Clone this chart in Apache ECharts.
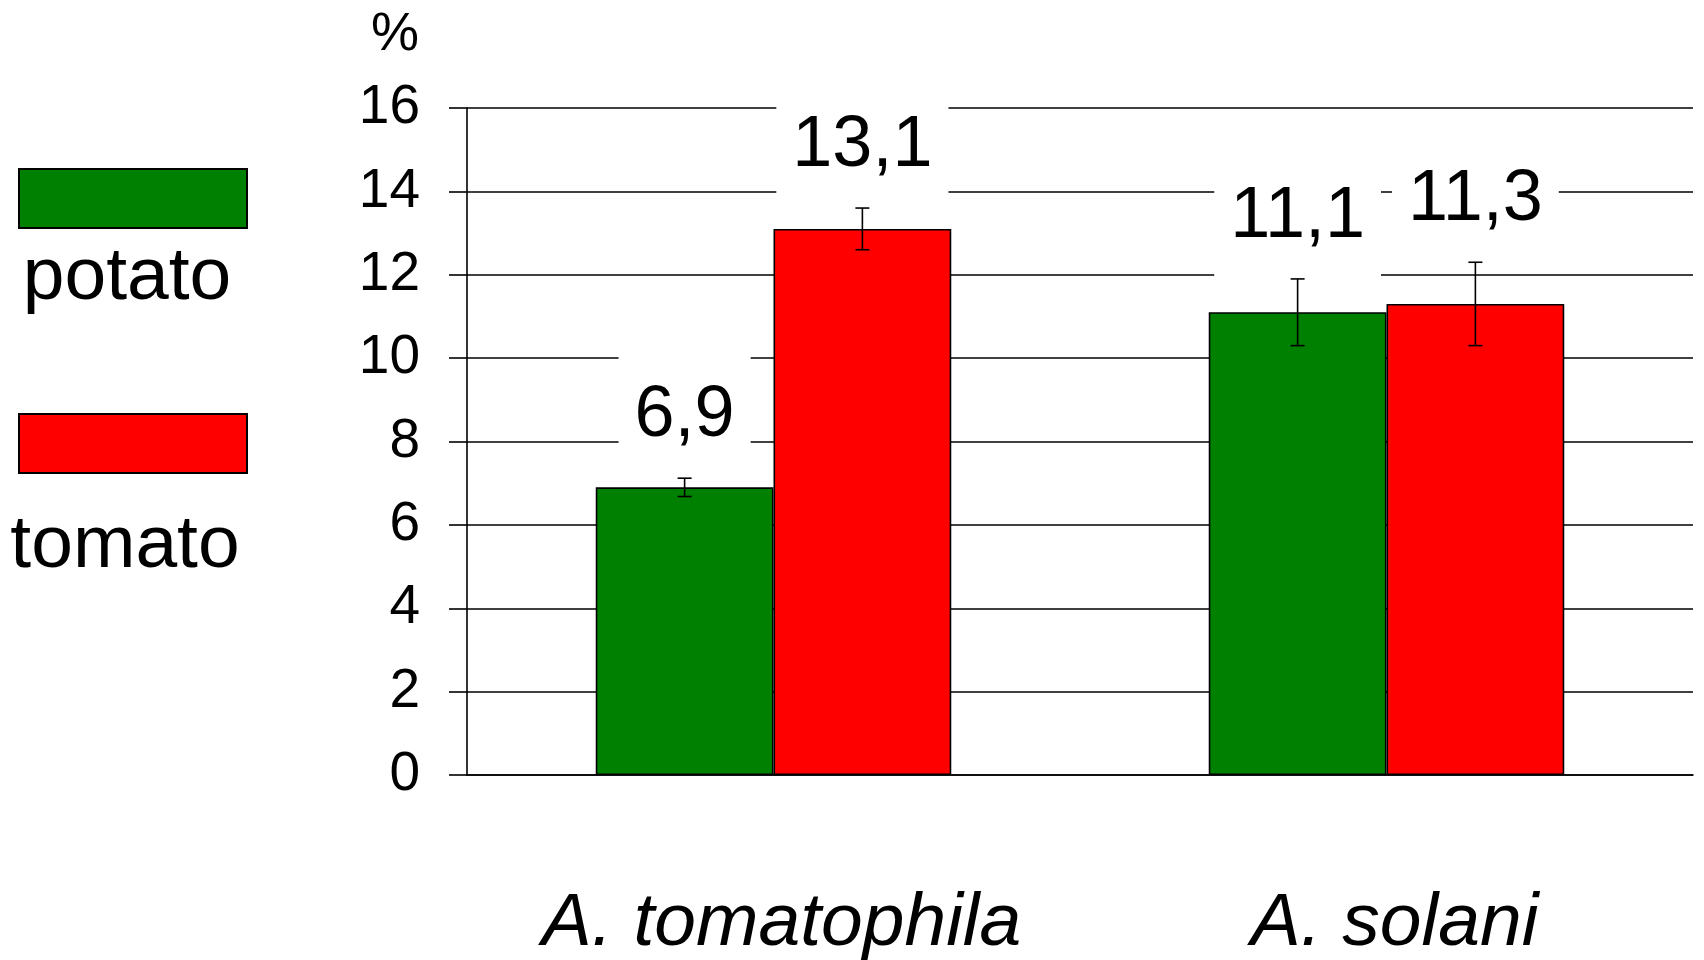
<!DOCTYPE html>
<html>
<head>
<meta charset="utf-8">
<script src="https://cdn.jsdelivr.net/npm/echarts@6/dist/echarts.min.js"></script>
<style>html,body{margin:0;padding:0;background:#fff}#c{width:1704px;height:960px}</style>
</head>
<body>
<div id="c"></div>
<script>
const categories = ['A. tomatophila', 'A. solani'];
const seriesNames = ['potato', 'tomato'];
const potatoValues = [6.9, 11.1];
const tomatoValues = [13.1, 11.3];
const potatoErrors = [0.22, 0.8];
const tomatoErrors = [0.5, 1.0];
const yMin = 0, yMax = 16, yInterval = 2;

const FONT = '"Liberation Sans", Arial, sans-serif';
const colors = ['#008000', '#ff0000'];
const values = [potatoValues, tomatoValues];
const errors = [potatoErrors, tomatoErrors];
const fmt = v => String(v).replace('.', ',');
const CAT_GAP = 0.42;

const chart = echarts.init(document.getElementById('c'), null, {renderer: 'canvas'});

function errorSeries(si) {
  const sign = si === 0 ? -1 : 1;
  return {
    type: 'custom',
    name: seriesNames[si] + ' err',
    z: 5,
    silent: true,
    data: categories.map((c, i) => [i, values[si][i], errors[si][i]]),
    encode: {x: 0, y: 1},
    renderItem: function (params, api) {
      const ci = api.value(0), v = api.value(1), e = api.value(2);
      const band = api.size([1, 0])[0];
      const barW = band * (1 - CAT_GAP) / 2;
      const c = api.coord([ci, v]);
      const x = c[0] + sign * barW / 2;
      const top = api.coord([ci, v + e])[1];
      const bot = api.coord([ci, v - e])[1];
      const cap = 7;
      const ls = {stroke: '#000', lineWidth: 1.6};
      return {
        type: 'group',
        children: [
          {type: 'text', z2: 1, style: {
            text: fmt(v), x: x, y: top - 62, align: 'center', verticalAlign: 'middle',
            fontSize: 72, fontFamily: FONT, fill: '#000', backgroundColor: '#fff',
            padding: [27, 16], lineHeight: 72
          }},
          {type: 'line', z2: 10, shape: {x1: x, y1: top, x2: x, y2: bot}, style: ls},
          {type: 'line', z2: 10, shape: {x1: x - cap, y1: top, x2: x + cap, y2: top}, style: ls},
          {type: 'line', z2: 10, shape: {x1: x - cap, y1: bot, x2: x + cap, y2: bot}, style: ls}
        ]
      };
    }
  };
}

const option = {
  backgroundColor: '#fff',
  animation: false,
  grid: {left: 467, right: 11, top: 108, bottom: 185, containLabel: false, outerBoundsMode: 'none'},
  legend: {
    orient: 'vertical', left: 13, top: 163,
    itemWidth: 228, itemHeight: 59, itemGap: 184,
    icon: 'rect',
    data: seriesNames,
    formatter: () => '',
    textStyle: {fontSize: 1},
    selectedMode: false
  },
  graphic: seriesNames.map((n, i) => ({
    type: 'text', x: i === 0 ? 127 : 125, y: i === 0 ? 278 : 546,
    style: {text: n, fontSize: 75, fontFamily: FONT, fill: '#000', align: 'center', verticalAlign: 'middle'}
  })),
  xAxis: {
    type: 'category', data: categories,
    axisLine: {show: true, lineStyle: {color: '#000', width: 1.6}},
    axisTick: {show: false},
    axisLabel: {interval: 0, hideOverlap: false, fontSize: 75, fontStyle: 'italic', fontFamily: FONT, color: '#000', margin: 112,
      padding: [0, 0, 0, 16]}
  },
  yAxis: {
    type: 'value', min: yMin, max: yMax, interval: yInterval,
    name: '%', nameLocation: 'end', nameGap: 46,
    nameTextStyle: {fontSize: 54, fontFamily: FONT, color: '#000', align: 'right', padding: [0, 48, 0, 0]},
    axisLine: {show: true, lineStyle: {color: '#000', width: 1.6}},
    axisTick: {show: true, inside: false, length: 18, lineStyle: {color: '#000', width: 1.6}},
    axisLabel: {fontSize: 55, fontFamily: FONT, color: '#000', margin: 47},
    splitLine: {show: true, lineStyle: {color: '#000', width: 1.6}}
  },
  series: [
    {type: 'bar', name: seriesNames[0], data: potatoValues, barGap: '0%', barCategoryGap: (CAT_GAP * 100) + '%',
     itemStyle: {color: colors[0], borderColor: '#000', borderWidth: 1.6}},
    {type: 'bar', name: seriesNames[1], data: tomatoValues, barGap: '0%', barCategoryGap: (CAT_GAP * 100) + '%',
     itemStyle: {color: colors[1], borderColor: '#000', borderWidth: 1.6}},
    errorSeries(0),
    errorSeries(1)
  ]
};
chart.setOption(option);
</script>
</body>
</html>
